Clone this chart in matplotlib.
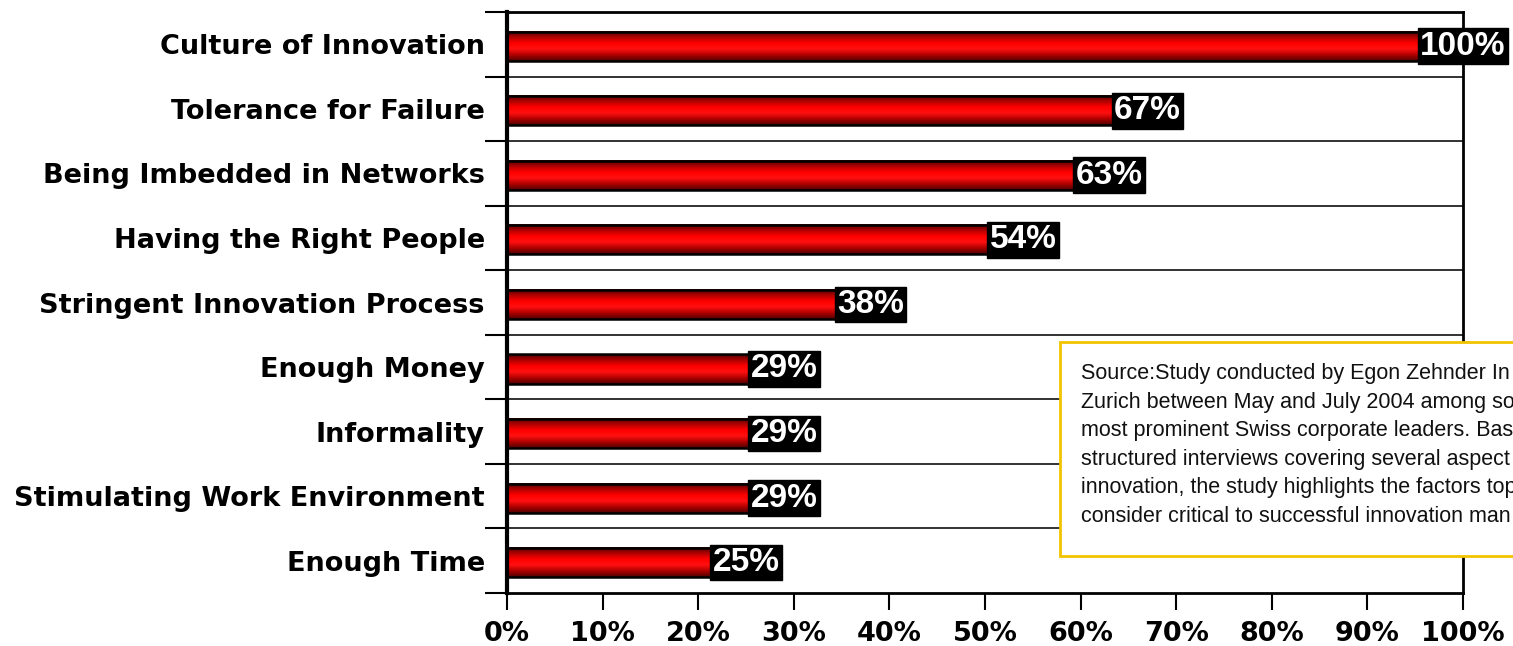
import numpy as np
import matplotlib
matplotlib.use("Agg")
import matplotlib.pyplot as plt
from matplotlib.colors import LinearSegmentedColormap
from matplotlib.patches import Rectangle

categories = ["Culture of Innovation", "Tolerance for Failure", "Being Imbedded in Networks",
              "Having the Right People", "Stringent Innovation Process", "Enough Money",
              "Informality", "Stimulating Work Environment", "Enough Time"]
values = [100, 67, 63, 54, 38, 29, 29, 29, 25]
xticks = [0, 10, 20, 30, 40, 50, 60, 70, 80, 90, 100]
source_lines = [
    "Source:Study conducted by Egon Zehnder In",
    "Zurich between May and July 2004 among so",
    "most prominent Swiss corporate leaders. Bas",
    "structured interviews covering several aspect",
    "innovation, the study highlights the factors top",
    "consider critical to successful innovation man",
]

W, H = 1513, 646
fig = plt.figure(figsize=(W / 100, H / 100), dpi=100)
ax = fig.add_axes([507 / W, 1 - 593 / H, (1463 - 507) / W, (593 - 12) / H])

n = len(categories)
ypos = np.arange(n)
bar_h = 0.45

# red gradient: dark at edges, bright in middle
cmap = LinearSegmentedColormap.from_list("redbar", ["#500000", "#b00000", "#ff0000", "#ff1010", "#b00000", "#500000"])
grad = np.linspace(0, 1, 64).reshape(-1, 1)

for y, v in zip(ypos, values):
    ax.imshow(grad, cmap=cmap, aspect="auto", extent=[0, v, y + 0.03 + bar_h / 2, y + 0.03 - bar_h / 2],
              zorder=2, interpolation="bilinear")
    ax.barh(y + 0.03, v, height=bar_h, facecolor="none", edgecolor="black", linewidth=1.8, zorder=3)
    ax.text(v, y + 0.03, "%d%%" % v, ha="center", va="center", color="white", fontsize=24,
            fontweight="bold", family="Liberation Sans", zorder=5, clip_on=False,
            bbox=dict(boxstyle="square,pad=0.07", facecolor="black", edgecolor="black"))

ax.set_xlim(0, 100)
ax.set_ylim(n - 0.5, -0.5)

# row separators
for b in np.arange(0.5, n - 0.5, 1):
    ax.axhline(b, color="#222222", linewidth=1.3, zorder=1)

ax.set_yticks(ypos)
ax.set_yticklabels(categories, fontsize=19.5, fontweight="bold", family="DejaVu Sans")
ax.tick_params(axis="y", which="major", length=0, pad=16)
ax.set_yticks(np.arange(-0.5, n, 1), minor=True)
ax.tick_params(axis="y", which="minor", length=16, width=1.5, direction="out")

ax.set_xticks(xticks)
ax.set_xticklabels(["%d%%" % t for t in xticks], fontsize=19.5, fontweight="bold", family="DejaVu Sans")
ax.tick_params(axis="x", length=12, width=1.5, direction="out", pad=8)

ax.spines["left"].set_linewidth(3)
ax.spines["bottom"].set_linewidth(2)
ax.spines["top"].set_linewidth(2)
ax.spines["right"].set_linewidth(2)

# source box
box = Rectangle((1060 / W, 1 - 556 / H), 600 / W, (556 - 342) / H, transform=fig.transFigure,
                facecolor="white", edgecolor="#f2c300", linewidth=2, zorder=10)
fig.add_artist(box)
fig.text(1081 / W, 1 - 363 / H, "\n".join(source_lines), ha="left", va="top", fontsize=15.5,
         family="Liberation Sans", linespacing=1.47, color="#111111", zorder=11)

fig.savefig("out.png", dpi=100)
